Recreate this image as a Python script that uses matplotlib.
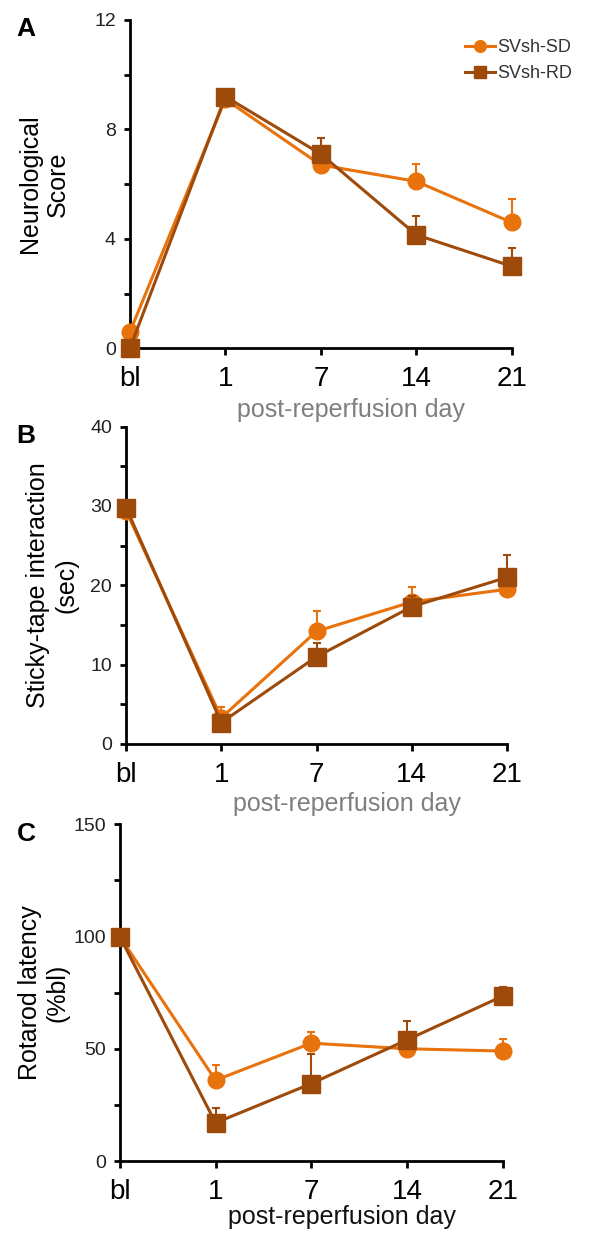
import matplotlib
matplotlib.use("Agg")
from matplotlib import pyplot as plt
from matplotlib.ticker import MultipleLocator

plt.rcParams['font.family'] = ['Liberation Sans', 'DejaVu Sans']

days = ["bl", "1", "7", "14", "21"]
x = list(range(len(days)))

# A: neurological score
neuro_sd = [0.6, 9.1, 6.7, 6.1, 4.6]
neuro_sd_err = [0, 0, 0, 0.65, 0.85]
neuro_rd = [0.0, 9.2, 7.1, 4.15, 3.0]
neuro_rd_err = [0, 0, 0.57, 0.7, 0.66]

# B: sticky tape
tape_sd = [29.4, 3.3, 14.2, 17.9, 19.5]
tape_sd_err = [0, 1.3, 2.6, 1.9, 0]
tape_rd = [29.8, 2.7, 11.0, 17.3, 21.0]
tape_rd_err = [0, 0, 1.7, 1.3, 2.8]

# C: rotarod
rota_sd = [100, 36, 52.5, 50, 49]
rota_sd_err = [0, 7, 5, 0, 5.5]
rota_rd = [100, 17, 34.5, 54, 73.5]
rota_rd_err = [0, 6.8, 13, 8.5, 4]

col_sd = "#E8720C"
col_rd = "#9E4A0B"

fig = plt.figure(figsize=(5.93, 12.4), dpi=100)

panels = [
    # rect, sd, sd_err, rd, rd_err, ymax, major, minor, ylabel, ylabel x, xlabel color, xlabel offset, letter
    ([0.219, 0.719, 0.644, 0.265], neuro_sd, neuro_sd_err, neuro_rd, neuro_rd_err,
     12, 4, 2, "Neurological\nScore", -0.157, "#7f7f7f", -0.150, "A"),
    ([0.2125, 0.400, 0.6425, 0.256], tape_sd, tape_sd_err, tape_rd, tape_rd_err,
     40, 10, 5, "Sticky-tape interaction\n(sec)", -0.126, "#7f7f7f", -0.150, "B"),
    ([0.202, 0.0637, 0.646, 0.2715], rota_sd, rota_sd_err, rota_rd, rota_rd_err,
     150, 50, 25, "Rotarod latency\n(%bl)", -0.131, "#111111", -0.130, "C"),
]

for rect, sd, sde, rd, rde, ymax, maj, mnr, ylab, ylx, xcol, xoff, letter in panels:
    ax = fig.add_axes(rect)
    zero = [0] * len(x)
    e1 = ax.errorbar(x, sd, yerr=[zero, sde], color=col_sd, marker='o', ms=12, lw=2.2,
                     elinewidth=1.5, capsize=3, capthick=1.5, clip_on=False, zorder=3)
    e2 = ax.errorbar(x, rd, yerr=[zero, rde], color=col_rd, marker='s', ms=13, lw=2.2,
                     elinewidth=1.5, capsize=3, capthick=1.5, clip_on=False, zorder=4)
    ax.set_xlim(0, 4)
    ax.set_ylim(0, ymax)
    ax.set_xticks(x)
    ax.set_xticklabels(days, fontsize=20)
    ax.yaxis.set_major_locator(MultipleLocator(maj))
    ax.yaxis.set_minor_locator(MultipleLocator(mnr))
    ax.tick_params(axis='y', which='major', labelsize=14, length=4, width=2,
                   labelcolor="#222222", pad=6)
    ax.tick_params(axis='y', which='minor', length=4, width=2)
    ax.tick_params(axis='x', length=5, width=2, pad=8)
    for s in ['top', 'right']:
        ax.spines[s].set_visible(False)
    for s in ['left', 'bottom']:
        ax.spines[s].set_linewidth(2)
    ax.set_ylabel(ylab, fontsize=18)
    ax.yaxis.set_label_coords(ylx, 0.5)
    ax.set_xlabel("post-reperfusion day", fontsize=18, color=xcol)
    ax.xaxis.set_label_coords(0.58, xoff)
    fig.text(0.028, rect[1] + rect[3] + 0.002, letter, fontsize=19,
             fontweight='bold', va='top')
    if letter == "A":
        leg = ax.legend([e1.lines[0], e2.lines[0]], ["SVsh-SD", "SVsh-RD"],
                        loc='upper right', frameon=False, fontsize=13,
                        handlelength=1.7, handletextpad=0.1, markerscale=0.7,
                        bbox_to_anchor=(1.2, 0.99), labelspacing=0.5)
        for t in leg.get_texts():
            t.set_color("#333333")

fig.savefig("out.png", dpi=100)
